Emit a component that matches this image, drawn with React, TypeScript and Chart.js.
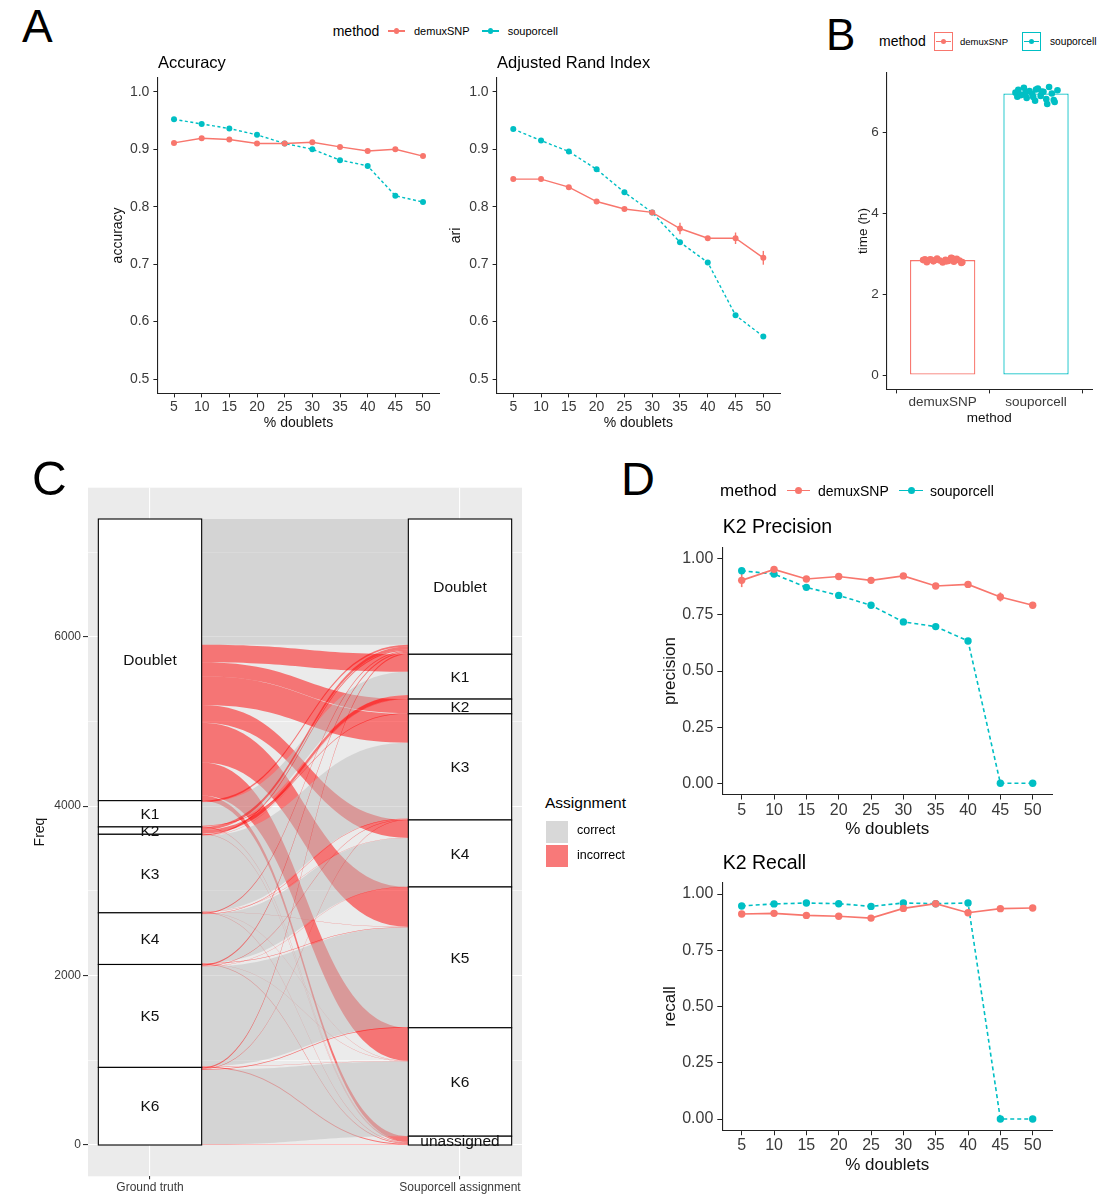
import React, { useEffect, useRef } from 'react';
import { Chart, registerables } from 'chart.js';

Chart.register(...registerables);

const FONT = '"Liberation Sans", Arial, Helvetica, sans-serif';
Chart.defaults.font.family = FONT;

const RED = '#F8766D';
const TEAL = '#00BFC4';
const TICK_COL = '#3A3A3A';

// ---------- data: panels A and D ----------
const doubletPct = [5, 10, 15, 20, 25, 30, 35, 40, 45, 50];

const accuracyDemux = [0.911, 0.919, 0.917, 0.91, 0.91, 0.912, 0.904, 0.897, 0.9, 0.888];
const accuracySoup = [0.952, 0.944, 0.936, 0.925, 0.91, 0.9, 0.881, 0.871, 0.819, 0.808];
const accuracyDemuxErr = [0.002, 0.002, 0.002, 0.002, 0.002, 0.002, 0.003, 0.003, 0.003, 0.003];

const ariDemux = [0.848, 0.848, 0.834, 0.809, 0.796, 0.79, 0.762, 0.745, 0.745, 0.711];
const ariSoup = [0.935, 0.915, 0.896, 0.865, 0.825, 0.79, 0.738, 0.703, 0.611, 0.574];
const ariDemuxErr = [0.003, 0.003, 0.003, 0.003, 0.003, 0.004, 0.01, 0.004, 0.01, 0.012];

const precisionDemux = [0.904, 0.953, 0.91, 0.921, 0.904, 0.924, 0.879, 0.886, 0.83, 0.793];
const precisionSoup = [0.947, 0.932, 0.873, 0.837, 0.793, 0.719, 0.698, 0.634, 0, 0];
const precisionDemuxErr = [0.03, 0.008, 0.006, 0.006, 0.006, 0.006, 0.008, 0.008, 0.02, 0.008];

const recallDemux = [0.911, 0.914, 0.905, 0.901, 0.893, 0.936, 0.957, 0.917, 0.935, 0.938];
const recallSoup = [0.947, 0.956, 0.96, 0.957, 0.945, 0.96, 0.957, 0.96, 0, 0];

const noErr = [0, 0, 0, 0, 0, 0, 0, 0, 0, 0];

const ticksA = [0.5, 0.6, 0.7, 0.8, 0.9, 1.0];
const ticksD = [0, 0.25, 0.5, 0.75, 1.0];

// ---------- data: panel B ----------
const methods = ['demuxSNP', 'souporcell'];
const timeMean = [2.84, 6.96];
const timeTicks = [0, 2, 4, 6];
const demuxTimes = [2.84, 2.79, 2.86, 2.81, 2.88, 2.83, 2.78, 2.85, 2.82, 2.9, 2.8, 2.87, 2.83, 2.79, 2.86, 2.84, 2.81, 2.89, 2.77, 2.85];
const demuxJitter = [-0.21, -0.17, -0.13, -0.1, -0.06, -0.03, 0.0, 0.03, 0.06, 0.09, 0.12, 0.15, 0.18, 0.21, -0.19, -0.08, 0.04, 0.1, 0.2, -0.14];
const soupTimes = [6.98, 7.05, 6.92, 7.1, 6.85, 7.02, 6.95, 6.78, 7.08, 6.9, 7.0, 6.82, 7.12, 6.96, 6.75, 7.04, 6.88, 6.99, 6.7, 7.06, 6.93, 6.8, 7.01, 6.87];
const soupJitter = [-0.22, -0.19, -0.16, -0.13, -0.1, -0.07, -0.04, -0.01, 0.02, 0.05, 0.08, 0.11, 0.14, 0.17, 0.2, 0.23, -0.2, -0.11, 0.12, 0.0, -0.15, 0.19, 0.06, -0.03];

// ---------- data: panel C (alluvial) ----------
const axisLabelsC = ['Ground truth', 'Souporcell assignment'];
const groundTruthStrata = ['Doublet', 'K1', 'K2', 'K3', 'K4', 'K5', 'K6'];
const souporcellStrata = ['Doublet', 'K1', 'K2', 'K3', 'K4', 'K5', 'K6', 'unassigned'];
// rows: ground truth stratum; columns: souporcell assignment stratum (cell counts)
const flowDoublet = [1485, 205, 165, 340, 210, 470, 390, 60];
const flowK1 = [20, 275, 9, 2, 0, 0, 0, 4];
const flowK2 = [35, 45, 0, 0, 0, 0, 0, 7];
const flowK3 = [15, 2, 0, 895, 3, 2, 2, 8];
const flowK4 = [12, 1, 0, 5, 575, 5, 2, 10];
const flowK5 = [15, 1, 0, 6, 3, 1175, 5, 10];
const flowK6 = [15, 0, 0, 5, 0, 10, 881, 5];
const flowCounts = [flowDoublet, flowK1, flowK2, flowK3, flowK4, flowK5, flowK6];
const freqGrid = [0, 1000, 2000, 3000, 4000, 5000, 6000, 7000];
const freqLabels = [0, 2000, 4000, 6000];

const STRATUM_W = 1 / 3;
const CORRECT_FILL = 'rgba(190,190,190,0.5)';
const INCORRECT_FILL = 'rgba(255,0,0,0.5)';

// ---------- plugins ----------
const errorBarPlugin = {
  id: 'errorBars',
  beforeDatasetsDraw(chart: any) {
    const { ctx } = chart;
    const x = chart.scales.x;
    const y = chart.scales.y;
    chart.data.datasets.forEach((ds: any) => {
      if (!ds.errorBars) return;
      ctx.save();
      ctx.strokeStyle = ds.borderColor;
      ctx.lineWidth = ds.borderWidth;
      ds.data.forEach((pt: any, i: number) => {
        const e = ds.errorBars[i];
        if (!e) return;
        const px = x.getPixelForValue(pt.x);
        ctx.beginPath();
        ctx.moveTo(px, y.getPixelForValue(pt.y - e));
        ctx.lineTo(px, y.getPixelForValue(pt.y + e));
        ctx.stroke();
      });
      ctx.restore();
    });
  },
};

const alluvialPlugin = {
  id: 'alluvial',
  beforeDraw(chart: any) {
    const { ctx, chartArea: a } = chart;
    ctx.save();
    ctx.fillStyle = '#EBEBEB';
    ctx.fillRect(a.left, a.top, a.right - a.left, a.bottom - a.top);
    ctx.restore();
  },
  beforeDatasetsDraw(chart: any) {
    const { ctx } = chart;
    const x = chart.scales.x;
    const y = chart.scales.y;
    const leftTot = flowCounts.map((r) => r.reduce((s, v) => s + v, 0));
    const rightTot = souporcellStrata.map((_, j) => flowCounts.reduce((s, r) => s + r[j], 0));
    const total = leftTot.reduce((s, v) => s + v, 0);
    const leftTop: number[] = [];
    let acc = total;
    leftTot.forEach((t) => { leftTop.push(acc); acc -= t; });
    const rightTop: number[] = [];
    acc = total;
    rightTot.forEach((t) => { rightTop.push(acc); acc -= t; });

    const xl = x.getPixelForValue(1 + STRATUM_W / 2);
    const xr = x.getPixelForValue(2 - STRATUM_W / 2);
    const xm = (xl + xr) / 2;
    const lCur = leftTop.slice();
    const rCur = rightTop.slice();
    ctx.save();
    for (let i = 0; i < flowCounts.length; i++) {
      for (let j = 0; j < souporcellStrata.length; j++) {
        const n = flowCounts[i][j];
        if (!n) continue;
        const lt = lCur[i];
        const lb = lt - n;
        lCur[i] = lb;
        const rt = rCur[j];
        const rb = rt - n;
        rCur[j] = rb;
        const ylt = y.getPixelForValue(lt), ylb = y.getPixelForValue(lb);
        const yrt = y.getPixelForValue(rt), yrb = y.getPixelForValue(rb);
        ctx.beginPath();
        ctx.moveTo(xl, ylt);
        ctx.bezierCurveTo(xm, ylt, xm, yrt, xr, yrt);
        ctx.lineTo(xr, yrb);
        ctx.bezierCurveTo(xm, yrb, xm, ylb, xl, ylb);
        ctx.closePath();
        ctx.fillStyle = groundTruthStrata[i] === souporcellStrata[j] ? CORRECT_FILL : INCORRECT_FILL;
        ctx.fill();
      }
    }
    // strata
    const drawStrata = (names: string[], tots: number[], tops: number[], axisPos: number) => {
      const x0 = x.getPixelForValue(axisPos - STRATUM_W / 2);
      const x1 = x.getPixelForValue(axisPos + STRATUM_W / 2);
      names.forEach((nm, k) => {
        const yt = y.getPixelForValue(tops[k]);
        const yb = y.getPixelForValue(tops[k] - tots[k]);
        ctx.fillStyle = '#FFFFFF';
        ctx.fillRect(x0, yt, x1 - x0, yb - yt);
        ctx.strokeStyle = '#000000';
        ctx.lineWidth = 1.1;
        ctx.strokeRect(x0, yt, x1 - x0, yb - yt);
      });
      names.forEach((nm, k) => {
        const ymid = y.getPixelForValue(tops[k] - tots[k] / 2);
        ctx.fillStyle = '#111';
        ctx.font = `15.5px ${FONT}`;
        ctx.textAlign = 'center';
        ctx.textBaseline = 'middle';
        ctx.fillText(nm, (x0 + x1) / 2, ymid + 1);
      });
    };
    drawStrata(groundTruthStrata, leftTot, leftTop, 1);
    drawStrata(souporcellStrata, rightTot, rightTop, 2);
    ctx.restore();
  },
};

// ---------- config builders ----------
type LineSpec = {
  demux: number[]; soup: number[]; demuxErr: number[];
  yMin: number; yMax: number; yTicks: number[]; decimals: number; yTitle: string;
  tickSize: number; titleSize: number; yAxisW: number; xAxisH: number; padTop: number; padRight: number;
  radius: number; lineW: number; dash: number[]; yTitlePad: number; xTitlePad: number;
  tickLen: number; yTickPad: number; xTickPad: number;
};

function lineConfig(s: LineSpec): any {
  const mk = (vals: number[]) => doubletPct.map((x, i) => ({ x, y: vals[i] }));
  const tickFont = { family: FONT, size: s.tickSize };
  const titleFont = { family: FONT, size: s.titleSize };
  return {
    type: 'line',
    data: {
      datasets: [
        {
          label: 'demuxSNP', data: mk(s.demux), borderColor: RED, backgroundColor: RED,
          pointBackgroundColor: RED, pointBorderWidth: 0, pointRadius: s.radius, borderWidth: s.lineW,
          errorBars: s.demuxErr, tension: 0,
        },
        {
          label: 'souporcell', data: mk(s.soup), borderColor: TEAL, backgroundColor: TEAL,
          pointBackgroundColor: TEAL, pointBorderWidth: 0, pointRadius: s.radius, borderWidth: s.lineW,
          borderDash: s.dash, tension: 0,
        },
      ],
    },
    options: {
      animation: false,
      responsive: false,
      devicePixelRatio: 1,
      layout: { padding: { top: s.padTop, right: s.padRight, left: 0, bottom: 0 } },
      plugins: { legend: { display: false }, tooltip: { enabled: false }, title: { display: false } },
      scales: {
        x: {
          type: 'linear', min: 2, max: 53,
          afterBuildTicks: (ax: any) => { ax.ticks = doubletPct.map((v) => ({ value: v })); },
          afterFit: (sc: any) => { sc.height = s.xAxisH; },
          ticks: { callback: (v: any) => String(v), font: tickFont, color: TICK_COL, padding: s.xTickPad, maxRotation: 0, autoSkip: false },
          grid: { display: true, drawOnChartArea: false, tickLength: s.tickLen, color: '#222', tickColor: '#222', lineWidth: 1 },
          border: { display: true, color: '#222', width: 1.1 },
          title: { display: true, text: '% doublets', font: titleFont, color: '#111', padding: { top: 0, bottom: s.xTitlePad } },
        },
        y: {
          type: 'linear', min: s.yMin, max: s.yMax,
          afterBuildTicks: (ax: any) => { ax.ticks = s.yTicks.map((v) => ({ value: v })); },
          afterFit: (sc: any) => { sc.width = s.yAxisW; },
          ticks: { callback: (v: any) => Number(v).toFixed(s.decimals), font: tickFont, color: TICK_COL, padding: s.yTickPad, autoSkip: false },
          grid: { display: true, drawOnChartArea: false, tickLength: s.tickLen, color: '#222', tickColor: '#222', lineWidth: 1 },
          border: { display: true, color: '#222', width: 1.1 },
          title: { display: true, text: s.yTitle, font: titleFont, color: '#111', padding: { top: s.yTitlePad, bottom: 0 } },
        },
      },
    },
    plugins: [errorBarPlugin],
  };
}

function timeConfig(): any {
  const tickFont = { family: FONT, size: 13.5 };
  const titleFont = { family: FONT, size: 13.5 };
  return {
    type: 'bar',
    data: {
      datasets: [
        {
          type: 'scatter', data: demuxTimes.map((t, i) => ({ x: 1 + demuxJitter[i], y: t })),
          backgroundColor: RED, borderColor: RED, pointRadius: 3.3, pointBorderWidth: 0, order: 1,
        },
        {
          type: 'scatter', data: soupTimes.map((t, i) => ({ x: 2 + soupJitter[i], y: t })),
          backgroundColor: TEAL, borderColor: TEAL, pointRadius: 3.3, pointBorderWidth: 0, order: 1,
        },
        {
          type: 'bar', data: timeMean.map((v, i) => ({ x: i + 1, y: v })),
          backgroundColor: '#FFFFFF', borderColor: [RED, TEAL], borderWidth: 1.3, borderSkipped: false,
          barPercentage: 0.7, categoryPercentage: 1, order: 2,
        },
      ],
    },
    options: {
      animation: false,
      responsive: false,
      devicePixelRatio: 1,
      layout: { padding: { top: 12.6, right: 13, left: 0, bottom: 0 } },
      plugins: { legend: { display: false }, tooltip: { enabled: false } },
      scales: {
        x: {
          type: 'linear', min: 0.4, max: 2.6, offset: false,
          afterBuildTicks: (ax: any) => { ax.ticks = methods.map((_, i) => ({ value: i + 1 })); },
          afterFit: (sc: any) => { sc.height = 50.6; },
          ticks: { callback: (v: any) => methods[Number(v) - 1] ?? '', font: tickFont, color: TICK_COL, padding: 1, maxRotation: 0, autoSkip: false },
          grid: { display: true, drawOnChartArea: false, tickLength: 4, color: '#222', tickColor: '#222', lineWidth: 1 },
          border: { display: true, color: '#222', width: 1.1 },
          title: { display: true, text: 'method', font: titleFont, color: '#111', padding: { top: 0, bottom: 13.5 } },
        },
        y: {
          type: 'linear', min: -0.356, max: 7.476,
          afterBuildTicks: (ax: any) => { ax.ticks = timeTicks.map((v) => ({ value: v })); },
          afterFit: (sc: any) => { sc.width = 46.7; },
          ticks: { callback: (v: any) => String(v), font: tickFont, color: TICK_COL, padding: 4, autoSkip: false },
          grid: { display: true, drawOnChartArea: false, tickLength: 4, color: '#222', tickColor: '#222', lineWidth: 1 },
          border: { display: true, color: '#222', width: 1.1 },
          title: { display: true, text: 'time (h)', font: titleFont, color: '#111', padding: { top: 15, bottom: 0 } },
        },
      },
    },
  };
}

function alluvialConfig(): any {
  const tickFont = { family: FONT, size: 12 };
  const isMajor = (c: any) => c.tick && freqLabels.includes(c.tick.value);
  return {
    type: 'scatter',
    data: { datasets: [] },
    options: {
      animation: false,
      responsive: false,
      devicePixelRatio: 1,
      layout: { padding: { top: 12.7, right: 13, left: 0, bottom: 0 } },
      plugins: { legend: { display: false }, tooltip: { enabled: false } },
      scales: {
        x: {
          type: 'linear', min: 0.8, max: 2.2,
          afterBuildTicks: (ax: any) => { ax.ticks = axisLabelsC.map((_, i) => ({ value: i + 1 })); },
          afterFit: (sc: any) => { sc.height = 21.7; },
          ticks: { callback: (v: any) => axisLabelsC[Number(v) - 1] ?? '', font: tickFont, color: TICK_COL, padding: 1, maxRotation: 0, autoSkip: false },
          grid: { display: true, drawOnChartArea: true, tickLength: 3, color: '#FFFFFF', tickColor: '#333', lineWidth: 1.1 },
          border: { display: false },
        },
        y: {
          type: 'linear', min: -369.5, max: 7759.5,
          afterBuildTicks: (ax: any) => { ax.ticks = freqGrid.map((v) => ({ value: v })); },
          afterFit: (sc: any) => { sc.width = 63; },
          ticks: { callback: (v: any) => (freqLabels.includes(Number(v)) ? String(v) : ''), font: tickFont, color: TICK_COL, padding: 2, autoSkip: false },
          grid: {
            display: true, drawOnChartArea: true, tickLength: 5, color: '#FFFFFF',
            tickColor: (c: any) => (isMajor(c) ? '#333' : 'rgba(0,0,0,0)'),
            lineWidth: (c: any) => (isMajor(c) ? 1.1 : 0.55),
          },
          border: { display: false },
          title: { display: true, text: 'Freq', font: { family: FONT, size: 14 }, color: '#111', padding: { top: 7, bottom: 0 } },
        },
      },
    },
    plugins: [alluvialPlugin],
  };
}

// ---------- components ----------
function ChartCanvas({ x, y, w, h, make }: { x: number; y: number; w: number; h: number; make: () => any }) {
  const ref = useRef<HTMLCanvasElement | null>(null);
  useEffect(() => {
    const chart = new Chart(ref.current as HTMLCanvasElement, make());
    return () => chart.destroy();
  }, []);
  return (
    <canvas
      ref={ref}
      width={w}
      height={h}
      style={{ position: 'absolute', left: x, top: y, width: w, height: h, display: 'block' }}
    />
  );
}

function Txt({ x, base, size, children, color = '#000' }: { x: number; base: number; size: number; children: any; color?: string }) {
  return (
    <div
      style={{
        position: 'absolute', left: x, top: base - 0.8465 * size, fontSize: size, lineHeight: `${size}px`,
        fontFamily: FONT, color, whiteSpace: 'nowrap',
      }}
    >
      {children}
    </div>
  );
}

function LineKey({ x1, x2, y, color, r }: { x1: number; x2: number; y: number; color: string; r: number }) {
  return (
    <>
      <div style={{ position: 'absolute', left: x1, top: y - 0.75, width: x2 - x1, height: 1.5, background: color }} />
      <div style={{ position: 'absolute', left: (x1 + x2) / 2 - r, top: y - r, width: 2 * r, height: 2 * r, borderRadius: '50%', background: color }} />
    </>
  );
}

function BoxKey({ x, y, s, color }: { x: number; y: number; s: number; color: string }) {
  return (
    <>
      <div style={{ position: 'absolute', left: x, top: y, width: s, height: s, boxSizing: 'border-box', border: `1.2px solid ${color}`, background: '#fff' }} />
      <div style={{ position: 'absolute', left: x + 2, top: y + s / 2 - 0.6, width: s - 4, height: 1.2, background: color }} />
      <div style={{ position: 'absolute', left: x + s / 2 - 2.5, top: y + s / 2 - 2.5, width: 5, height: 5, borderRadius: '50%', background: color }} />
    </>
  );
}

export default function App() {
  const specA = {
    demuxErr: accuracyDemuxErr, yMin: 0.475, yMax: 1.025, yTicks: ticksA, decimals: 1,
    tickSize: 14, titleSize: 14, xAxisH: 46.6, padTop: 12.3,
    radius: 3, lineW: 1.4, dash: [3, 2.5], xTitlePad: 8.9, tickLen: 4, yTickPad: 4, xTickPad: 1,
  };
  const specD = {
    yMin: -0.05, yMax: 1.05, yTicks: ticksD, decimals: 2, tickSize: 16, titleSize: 17,
    yAxisW: 67.3, padRight: 12.9, radius: 3.7, lineW: 1.6, dash: [4, 3], tickLen: 5, yTickPad: 4, xTickPad: 1,
  };
  return (
    <div style={{ position: 'absolute', left: 0, top: 0, width: 1111, height: 1200, background: '#fff', overflow: 'hidden', fontFamily: FONT }}>
      {/* Panel A */}
      <ChartCanvas x={100} y={65} w={352} h={375} make={() => lineConfig({
        ...specA, demux: accuracyDemux, soup: accuracySoup, yTitle: 'accuracy', yAxisW: 57.4, padRight: 12.4, yTitlePad: 10,
      } as LineSpec)} />
      <ChartCanvas x={440} y={65} w={352} h={375} make={() => lineConfig({
        ...specA, demux: ariDemux, soup: ariSoup, demuxErr: ariDemuxErr, yTitle: 'ari', yAxisW: 56.6, padRight: 12, yTitlePad: 8,
      } as LineSpec)} />

      {/* Panel B */}
      <ChartCanvas x={840} y={60} w={265} h={380} make={timeConfig} />

      {/* Panel C */}
      <ChartCanvas x={25} y={475} w={510} h={723} make={alluvialConfig} />

      {/* Panel D */}
      <ChartCanvas x={655} y={534} w={410} h={311} make={() => lineConfig({
        ...specD, demux: precisionDemux, soup: precisionSoup, demuxErr: precisionDemuxErr, yTitle: 'precision',
        xAxisH: 50.5, padTop: 13, yTitlePad: 4.7, xTitlePad: 5.8,
      } as LineSpec)} />
      <ChartCanvas x={655} y={869} w={410} h={313} make={() => lineConfig({
        ...specD, demux: recallDemux, soup: recallSoup, demuxErr: noErr, yTitle: 'recall',
        xAxisH: 51.75, padTop: 13.75, yTitlePad: 4.7, xTitlePad: 6.8,
      } as LineSpec)} />

      {/* panel letters */}
      <Txt x={22} base={42} size={46}>A</Txt>
      <Txt x={826} base={50} size={44}>B</Txt>
      <Txt x={32} base={496} size={48}>C</Txt>
      <Txt x={621} base={495} size={47}>D</Txt>

      {/* titles */}
      <Txt x={158} base={68} size={16.5}>Accuracy</Txt>
      <Txt x={497} base={68} size={16.5}>Adjusted Rand Index</Txt>
      <Txt x={722.7} base={534} size={19.5}>K2 Precision</Txt>
      <Txt x={722.7} base={870} size={19.5}>K2 Recall</Txt>

      {/* legend A */}
      <Txt x={332.7} base={36} size={14}>method</Txt>
      <LineKey x1={388} x2={405} y={31} color={RED} r={2.6} />
      <Txt x={414} base={35.3} size={11}>demuxSNP</Txt>
      <LineKey x1={482} x2={499} y={31} color={TEAL} r={2.6} />
      <Txt x={507.7} base={35.3} size={11}>souporcell</Txt>

      {/* legend B */}
      <Txt x={879} base={46} size={14}>method</Txt>
      <BoxKey x={934} y={32} s={19} color={RED} />
      <Txt x={960} base={45.3} size={9.5}>demuxSNP</Txt>
      <BoxKey x={1022} y={32} s={19} color={TEAL} />
      <Txt x={1050} base={45.3} size={10.2}>souporcell</Txt>

      {/* legend C */}
      <Txt x={545} base={808} size={15.5}>Assignment</Txt>
      <div style={{ position: 'absolute', left: 546, top: 820.6, width: 22, height: 22, background: '#D8D8D8' }} />
      <div style={{ position: 'absolute', left: 546, top: 844.6, width: 22, height: 22, background: '#F87979' }} />
      <Txt x={577} base={835} size={12.5}>correct</Txt>
      <Txt x={577} base={860} size={12.5}>incorrect</Txt>

      {/* legend D */}
      <Txt x={720} base={496} size={17}>method</Txt>
      <LineKey x1={787} x2={810} y={490.5} color={RED} r={3.5} />
      <Txt x={818} base={496} size={14}>demuxSNP</Txt>
      <LineKey x1={899} x2={923} y={490.5} color={TEAL} r={3.5} />
      <Txt x={930} base={496} size={14}>souporcell</Txt>
    </div>
  );
}
